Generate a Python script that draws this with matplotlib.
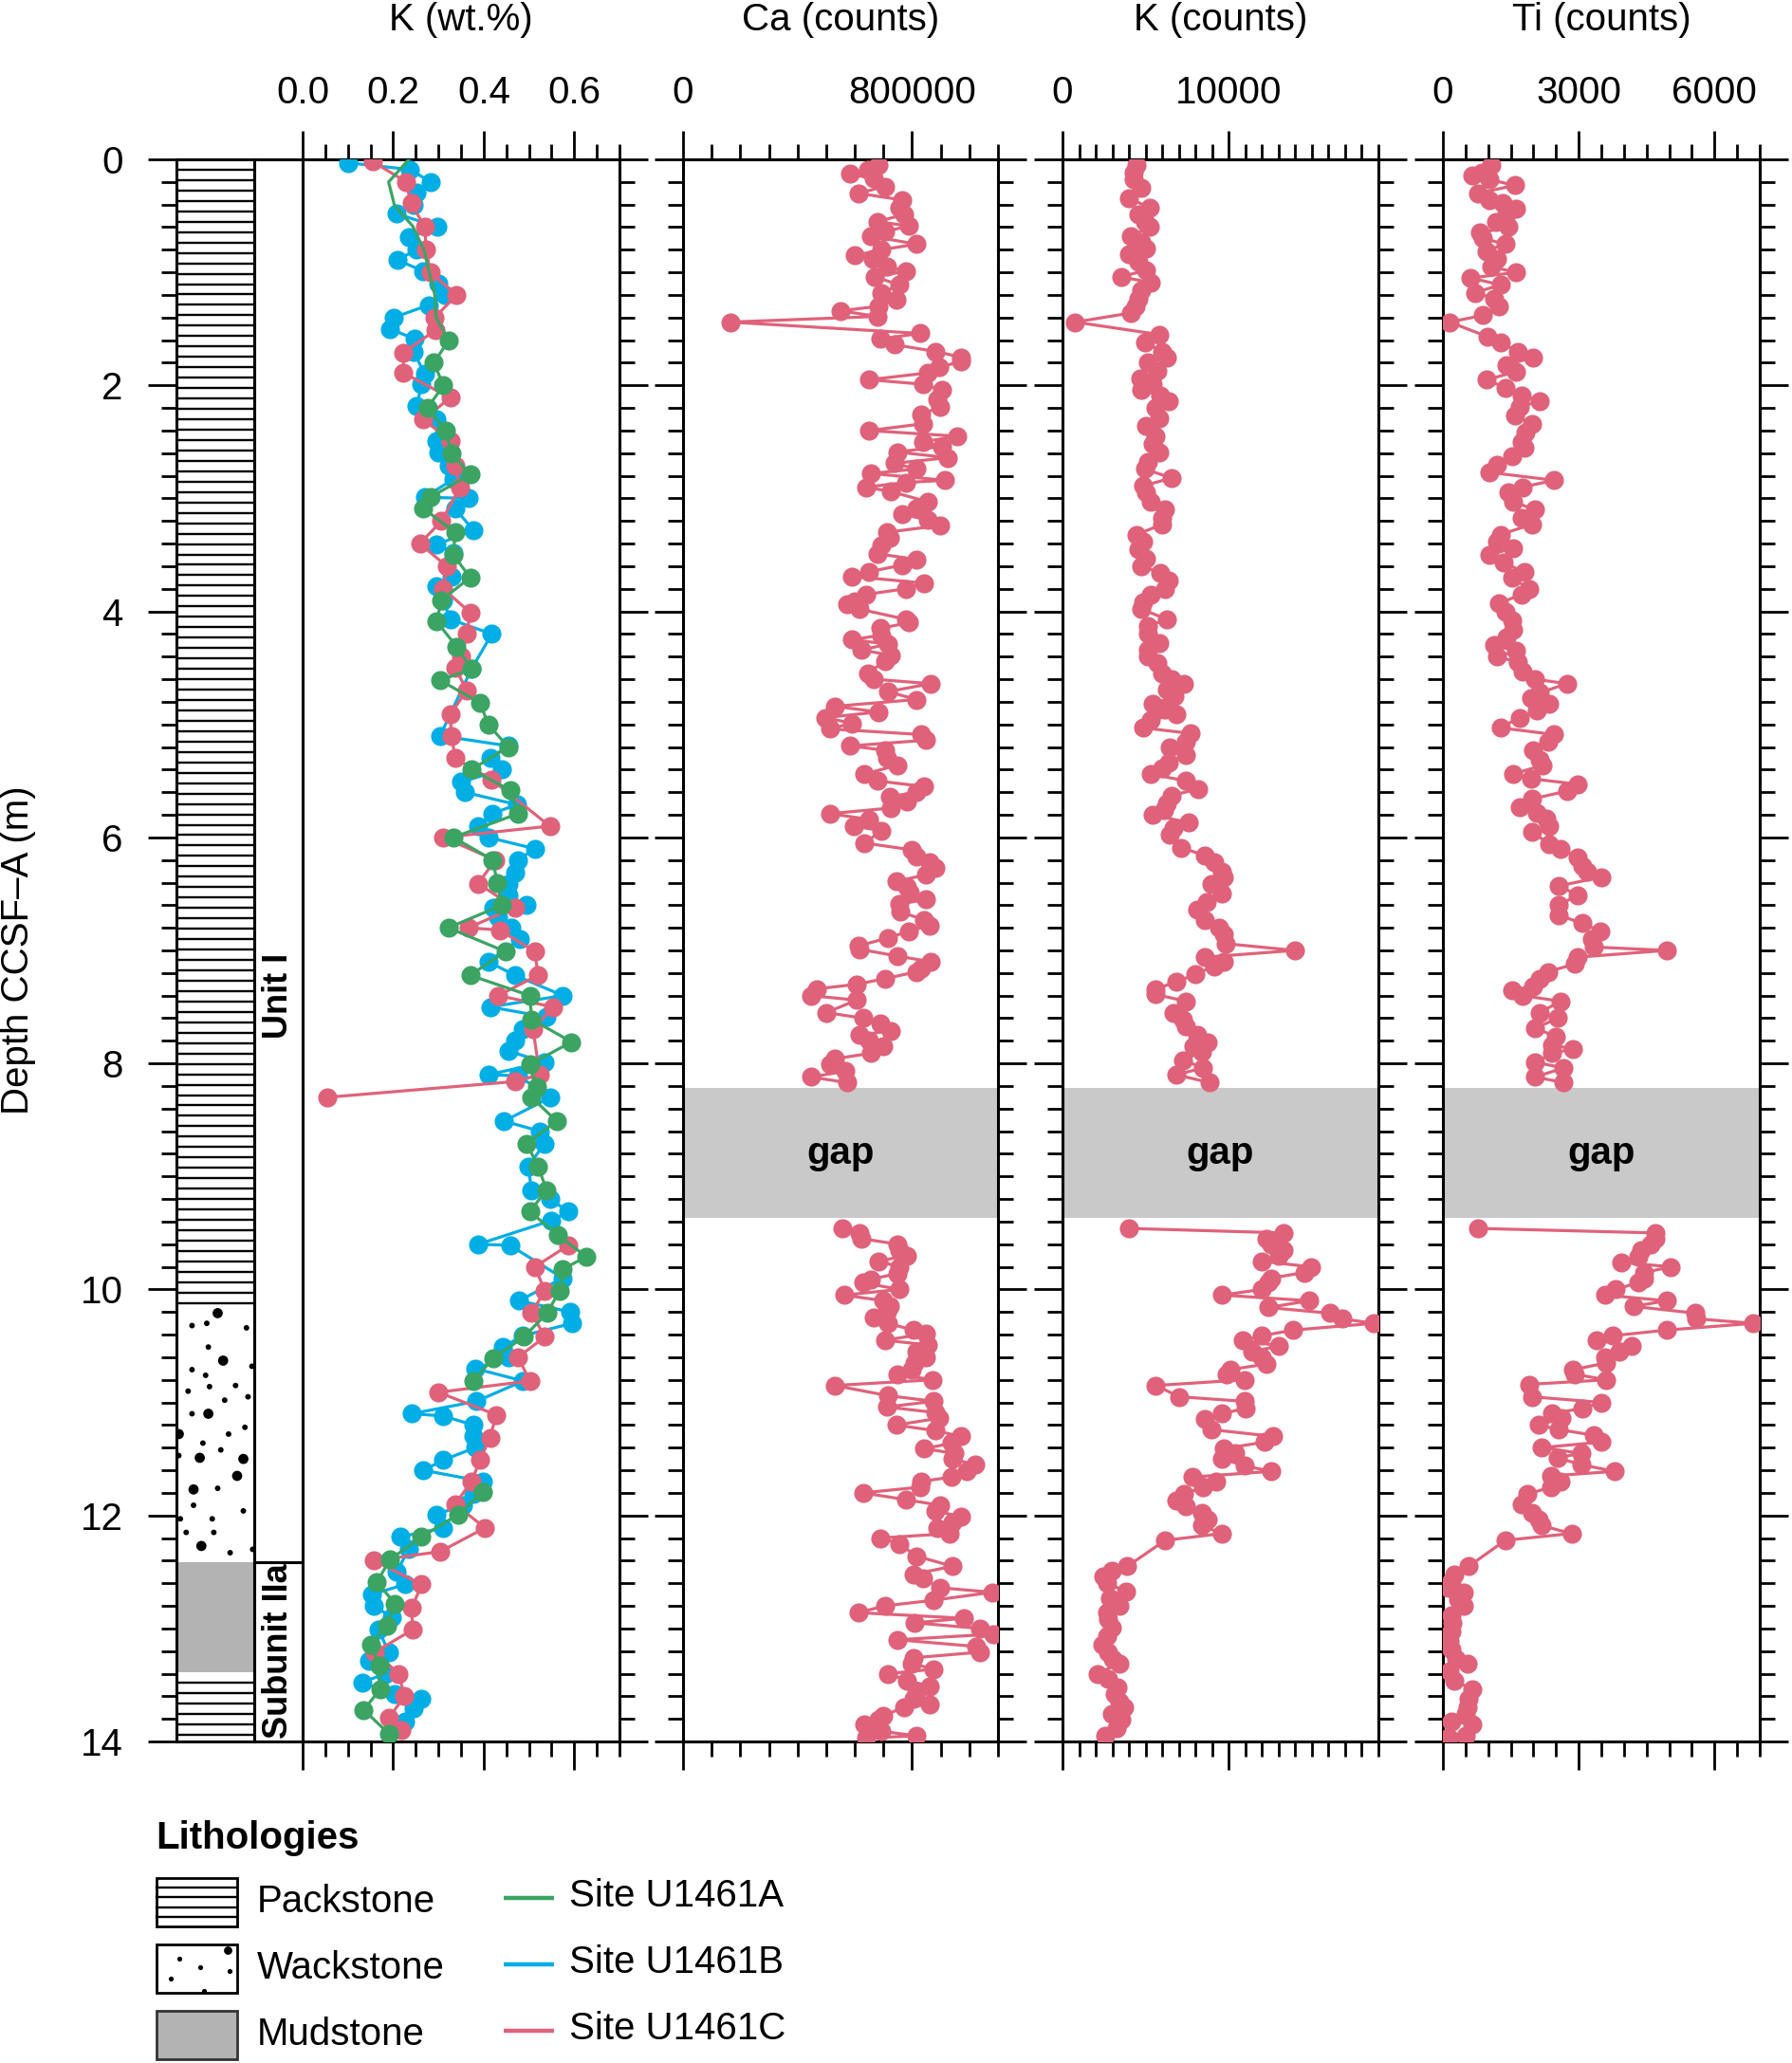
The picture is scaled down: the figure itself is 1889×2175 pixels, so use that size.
import numpy as np
import matplotlib
matplotlib.use("Agg")
import matplotlib.pyplot as plt
from matplotlib.ticker import MultipleLocator, FixedLocator, FixedFormatter
from matplotlib.patches import Rectangle

plt.rcParams['font.family'] = ['Liberation Sans', 'DejaVu Sans']

# ---------------------------------------------------------------- data
# Ca counts (thousands) vs depth, Site U1461C
ca_data = [(0.05,683),(0.09,645),(0.13,582),(0.17,667),(0.24,705),(0.30,612),(0.36,766),(0.43,755),(0.49,771),(0.55,678),
 (0.59,788),(0.64,705),(0.68,656),(0.75,815),(0.80,694),(0.85,601),(0.88,661),(0.95,711),(0.99,777),(1.04,670),
 (1.11,755),(1.18,694),(1.24,744),(1.30,683),(1.34,551),(1.39,678),(1.44,165),(1.54,827),(1.59,689),(1.64,738),
 (1.70,882),(1.75,970),(1.79,970),(1.84,893),(1.89,854),(1.95,650),(1.99,838),(2.04,904),(2.12,887),(2.19,898),
 (2.26,832),(2.34,838),(2.40,650),(2.45,959),(2.50,838),(2.54,904),(2.59,749),(2.64,926),(2.69,738),(2.74,815),
 (2.78,656),(2.84,915),(2.86,777),(2.90,639),(2.94,727),(3.03,854),(3.09,815),(3.14,766),(3.19,854),(3.24,898),
 (3.30,711),(3.35,722),(3.42,694),(3.49,678),(3.54,815),(3.59,766),(3.65,648),(3.69,590),(3.75,843),(3.80,777),
 (3.85,639),(3.91,601),(3.94,573),(3.98,617),(4.07,777),(4.10,788),(4.15,689),(4.21,694),(4.25,590),(4.29,716),
 (4.34,623),(4.39,727),(4.44,705),(4.55,645),(4.60,667),(4.64,865),(4.71,716),(4.78,815),(4.84,529),(4.89,683),
 (4.94,496),(4.99,590),(5.04,512),(5.09,832),(5.14,849),(5.19,584),(5.23,705),(5.30,711),(5.36,749),(5.44,634),
 (5.50,678),(5.55,843),(5.60,815),(5.64,722),(5.68,782),(5.74,727),(5.79,512),(5.84,650),(5.90,595),(5.94,694),
 (6.05,634),(6.11,799),(6.17,815),(6.22,860),(6.27,882),(6.33,849),(6.39,744),(6.44,782),(6.49,793),(6.55,849),
 (6.59,755),(6.66,760),(6.73,843),(6.78,860),(6.83,788),(6.89,716),(6.96,612),(6.99,617),(7.05,749),(7.10,865),
 (7.16,832),(7.19,815),(7.25,705),(7.30,606),(7.34,468),(7.40,446),(7.44,606),(7.55,501),(7.60,628),(7.65,689),
 (7.71,727),(7.75,617),(7.80,650),(7.85,700),(7.91,656),(7.96,529),(8.01,512),(8.07,568),(8.12,446),(8.17,573),
 (9.46,556),(9.50,617),(9.55,623),(9.60,749),(9.65,755),(9.70,782),(9.75,683),(9.80,755),(9.86,749),(9.91,656),
 (9.94,628),(10.00,755),(10.05,562),(10.10,700),(10.15,722),(10.20,711),(10.25,667),(10.30,716),(10.36,804),(10.39,849),
 (10.45,705),(10.49,854),(10.55,815),(10.60,849),(10.65,810),(10.71,799),(10.75,749),(10.80,871),(10.85,529),(10.94,716),
 (10.99,876),(11.04,711),(11.09,882),(11.14,893),(11.20,744),(11.25,882),(11.30,970),(11.36,937),(11.41,843),(11.45,948),
 (11.50,942),(11.55,1019),(11.61,992),(11.66,937),(11.70,832),(11.75,827),(11.80,628),(11.86,777),(11.91,898),(11.96,882),
 (12.01,970),(12.06,942),(12.11,887),(12.16,931),(12.20,689),(12.25,755),(12.36,815),(12.45,942),(12.52,804),(12.56,838),
 (12.64,898),(12.68,1080),(12.75,876),(12.80,705),(12.86,612),(12.91,981),(12.95,810),(13.00,1036),(13.05,1085),(13.10,749),
 (13.16,1025),(13.21,1036),(13.26,804),(13.31,799),(13.36,876),(13.40,716),(13.46,782),(13.51,860),(13.56,815),(13.62,804),
 (13.67,860),(13.70,771),(13.77,700),(13.81,683),(13.85,634),(13.91,694),(13.95,815),(13.97,639)]

# K counts vs depth, Site U1461C
kc_data = [(0.05,4470),(0.12,4280),(0.18,4280),(0.25,4755),(0.34,3990),(0.43,5230),(0.49,4560),(0.55,4945),(0.60,5230),(0.68,4090),
 (0.73,4755),(0.79,5040),(0.84,3990),(0.91,4565),(0.98,5040),(1.04,3520),(1.09,5325),(1.16,4755),(1.23,4565),(1.30,4375),
 (1.36,4090),(1.44,760),(1.55,5800),(1.62,4945),(1.70,5990),(1.75,6280),(1.80,5135),(1.87,5705),(1.94,4660),(1.99,5420),
 (2.04,4755),(2.09,5900),(2.14,6370),(2.20,5610),(2.29,5800),(2.36,5040),(2.45,5610),(2.52,5420),(2.59,5800),(2.68,5135),
 (2.74,4945),(2.82,6560),(2.89,4850),(2.95,5040),(3.03,5325),(3.10,6180),(3.17,5990),(3.23,5990),(3.32,4470),(3.38,4850),
 (3.45,4565),(3.53,5040),(3.60,4755),(3.66,5900),(3.73,6370),(3.80,6180),(3.85,5325),(3.92,4850),(3.98,4755),(4.07,6280),
 (4.13,5135),(4.20,5135),(4.28,5800),(4.34,5135),(4.40,5135),(4.46,5705),(4.55,5990),(4.60,6560),(4.64,7320),(4.69,6280),
 (4.75,6750),(4.82,5420),(4.87,6180),(4.91,6845),(4.96,5325),(5.03,4850),(5.08,7700),(5.15,7420),(5.20,6465),(5.27,7420),
 (5.34,6370),(5.39,5990),(5.44,5325),(5.50,7420),(5.57,8180),(5.63,6560),(5.70,6280),(5.76,6085),(5.80,5420),(5.87,7610),
 (5.92,6655),(5.98,6465),(6.09,7130),(6.16,8560),(6.22,9130),(6.30,9605),(6.35,9700),(6.41,8940),(6.50,9605),(6.57,8655),
 (6.64,8085),(6.73,8560),(6.80,9415),(6.86,9700),(6.94,9795),(7.00,13980),(7.06,8560),(7.10,9700),(7.14,9130),(7.21,7990),
 (7.28,6845),(7.34,5610),(7.39,5610),(7.45,7420),(7.55,6655),(7.61,7230),(7.67,7420),(7.75,8085),(7.81,8750),(7.85,7895),
 (7.90,8370),(7.97,7230),(8.04,8465),(8.10,6845),(8.17,8845),
 (9.46,3990),(9.50,13300),(9.55,12270),(9.60,12550),(9.65,13300),(9.70,13030),(9.75,11980),(9.80,14930),(9.85,14550),(9.90,12550),
 (9.94,12360),(10.00,11980),(10.05,9605),(10.10,14840),(10.16,12360),(10.21,16070),(10.26,16830),(10.30,18730),(10.36,13880),(10.41,11980),
 (10.45,10840),(10.50,13030),(10.55,11410),(10.60,11980),(10.66,12270),(10.71,10080),(10.75,9890),(10.80,10935),(10.85,5610),(10.95,7040),
 (10.99,10935),(11.05,11030),(11.10,9605),(11.15,8560),(11.24,8940),(11.30,12650),(11.35,12170),(11.41,9700),(11.45,10365),(11.50,9605),
 (11.56,10935),(11.61,12550),(11.66,7800),(11.70,9225),(11.75,8465),(11.81,7320),(11.87,6845),(11.92,7420),(11.98,8370),(12.04,8750),
 (12.09,8370),(12.16,9605),(12.22,6180),(12.45,3900),(12.49,2950),(12.54,2470),(12.60,2660),(12.67,3800),(12.73,2850),(12.80,3420),
 (12.86,2660),(12.92,2760),(12.99,2950),(13.07,2660),(13.14,2380),(13.21,2760),(13.27,3040),(13.31,3420),(13.40,2090),(13.45,2760),
 (13.52,3330),(13.58,3140),(13.65,3420),(13.70,3710),(13.76,2950),(13.81,3520),(13.88,3230),(13.95,2570)]

# Ti counts vs depth, Site U1461C
ti_data = [(0.05,1060),(0.12,850),(0.14,640),(0.18,1030),(0.23,1590),(0.30,780),(0.36,1030),(0.39,1310),(0.44,1620),(0.49,1410),
 (0.55,1170),(0.60,1450),(0.65,820),(0.70,890),(0.75,1380),(0.81,960),(0.88,1200),(0.95,1060),(1.00,1620),(1.05,610),
 (1.11,1270),(1.18,710),(1.23,1130),(1.30,1240),(1.38,890),(1.44,150),(1.57,990),(1.62,1270),(1.70,1660),(1.75,2000),
 (1.82,1410),(1.88,1620),(1.95,960),(2.02,1380),(2.09,1730),(2.14,2140),(2.19,1690),(2.27,1590),(2.34,1970),(2.42,1830),
 (2.50,1730),(2.55,1800),(2.63,1520),(2.70,1200),(2.77,1030),(2.84,2460),(2.90,1760),(2.95,1450),(3.03,1550),(3.10,2040),
 (3.17,1730),(3.23,1970),(3.32,1270),(3.38,1200),(3.44,1550),(3.50,1030),(3.57,1340),(3.65,1800),(3.70,1520),(3.80,1900),
 (3.85,1730),(3.93,1240),(4.00,1380),(4.08,1520),(4.16,1550),(4.23,1410),(4.30,1130),(4.35,1620),(4.40,1200),(4.45,1660),
 (4.53,1760),(4.60,2040),(4.64,2740),(4.72,2140),(4.77,1940),(4.82,2350),(4.88,2070),(4.94,1690),(5.03,1270),(5.09,2460),
 (5.15,2320),(5.23,2000),(5.31,2140),(5.36,2210),(5.44,1550),(5.48,1940),(5.53,2980),(5.59,2740),(5.66,1970),(5.73,1690),
 (5.78,2070),(5.83,2280),(5.90,2350),(5.95,1970),(6.06,2350),(6.10,2600),(6.18,2980),(6.25,3090),(6.30,3190),(6.35,3510),
 (6.43,2560),(6.51,2980),(6.60,2560),(6.69,2560),(6.76,3090),(6.83,3470),(6.90,3300),(6.97,3330),(7.00,4940),(7.06,2980),
 (7.12,2910),(7.19,2320),(7.25,2140),(7.32,2000),(7.35,1520),(7.40,1760),(7.45,2600),(7.55,2140),(7.60,2530),(7.69,2040),
 (7.76,2490),(7.84,2420),(7.87,2880),(7.91,2420),(7.99,2040),(8.04,2670),(8.12,2040),(8.17,2670),
 (9.46,780),(9.50,4690),(9.55,4690),(9.60,4590),(9.65,4380),(9.71,4310),(9.76,3930),(9.80,5040),(9.85,4450),(9.90,4450),
 (9.94,4310),(10.00,3820),(10.05,3580),(10.10,4940),(10.15,4210),(10.21,5570),(10.26,5600),(10.30,6860),(10.36,4940),(10.41,3750),
 (10.45,3400),(10.50,4170),(10.55,3890),(10.60,3580),(10.65,3610),(10.71,2880),(10.75,2910),(10.80,3610),(10.84,1900),(10.95,1970),
 (11.00,3510),(11.05,3090),(11.10,2420),(11.14,2630),(11.20,2110),(11.24,2560),(11.29,3330),(11.35,3510),(11.40,2180),(11.45,3050),
 (11.49,2530),(11.55,3050),(11.61,3790),(11.65,2390),(11.70,2600),(11.75,2390),(11.81,1870),(11.90,1730),(11.98,1970),(12.04,2110),
 (12.09,2180),(12.16,2840),(12.22,1380),(12.45,570),(12.52,260),(12.58,190),(12.64,120),(12.68,470),(12.74,330),(12.80,470),
 (12.88,190),(12.95,220),(13.03,190),(13.11,150),(13.19,190),(13.27,290),(13.31,540),(13.38,150),(13.46,260),(13.54,640),
 (13.62,570),(13.70,540),(13.76,500),(13.82,190),(13.85,640),(13.95,500),(13.97,120)]

# K (wt.%) for the three holes
kwt_a = [(0.00,0.235),(0.20,0.190),(0.41,0.203),(0.59,0.243),(0.80,0.268),(1.00,0.280),(1.20,0.292),(1.40,0.295),
 (1.60,0.323),(1.80,0.290),(2.00,0.311),(2.20,0.276),(2.40,0.316),(2.60,0.329),(2.79,0.370),(2.99,0.282),(3.09,0.267),
 (3.30,0.337),(3.50,0.333),(3.70,0.370),(3.90,0.307),(4.09,0.296),(4.31,0.340),(4.51,0.373),(4.61,0.304),(4.81,0.392),
 (5.00,0.410),(5.20,0.454),(5.40,0.373),(5.58,0.458),(5.79,0.476),(6.00,0.333),(6.20,0.420),(6.40,0.430),(6.60,0.440),
 (6.80,0.322),(7.01,0.448),(7.22,0.370),(7.40,0.502),(7.61,0.506),(7.81,0.594),(8.01,0.502),(8.21,0.517),(8.30,0.506),
 (8.51,0.561),(8.71,0.495),(8.91,0.520),(9.12,0.539),(9.31,0.502),(9.52,0.564),(9.71,0.627),(9.82,0.575),(10.01,0.568),
 (10.21,0.540),(10.42,0.489),(10.61,0.421),(10.81,0.377),(11.79,0.399),(11.99,0.344),(12.19,0.263),(12.39,0.193),
 (12.59,0.164),(12.78,0.204),(12.98,0.186),(13.14,0.151),(13.33,0.169),(13.54,0.171),(13.72,0.135),(13.93,0.190)]
kwt_b = [(0.03,0.100),(0.09,0.237),(0.20,0.283),(0.29,0.252),(0.40,0.245),(0.48,0.208),(0.60,0.298),(0.69,0.234),(0.80,0.252),
 (0.89,0.209),(0.99,0.267),(1.10,0.300),(1.20,0.315),(1.29,0.278),(1.40,0.201),(1.50,0.193),(1.59,0.248),(1.70,0.245),
 (1.90,0.270),(1.99,0.263),(2.18,0.252),(2.30,0.296),(2.49,0.296),(2.59,0.300),(2.71,0.322),(2.83,0.333),(2.99,0.270),
 (3.00,0.366),(3.09,0.337),(3.28,0.377),(3.41,0.296),(3.48,0.333),(3.69,0.329),(3.78,0.296),(3.90,0.311),(4.07,0.326),
 (4.20,0.418),(4.51,0.373),(5.10,0.304),(5.19,0.454),(5.30,0.414),(5.40,0.440),(5.51,0.351),(5.60,0.358),(5.71,0.473),
 (5.79,0.419),(5.90,0.388),(6.00,0.410),(6.10,0.513),(6.20,0.476),(6.31,0.469),(6.41,0.454),(6.51,0.454),(6.60,0.495),
 (6.62,0.421),(6.71,0.432),(6.80,0.462),(6.90,0.480),(7.10,0.410),(7.22,0.469),(7.40,0.575),(7.50,0.414),(7.59,0.539),
 (7.70,0.487),(7.80,0.469),(7.89,0.454),(7.99,0.535),(8.10,0.410),(8.11,0.476),(8.30,0.548),(8.51,0.445),(8.60,0.524),
 (8.71,0.535),(8.91,0.498),(9.12,0.506),(9.20,0.546),(9.31,0.587),(9.39,0.550),(9.60,0.388),(9.61,0.458),(9.90,0.575),
 (10.10,0.478),(10.20,0.592),(10.30,0.596),(10.41,0.486),(10.51,0.442),(10.60,0.454),(10.70,0.381),(10.81,0.487),
 (10.99,0.384),(11.10,0.241),(11.12,0.311),(11.20,0.377),(11.30,0.377),(11.40,0.381),(11.51,0.311),(11.60,0.267),
 (11.70,0.399),(11.81,0.377),(11.91,0.355),(11.99,0.296),(12.11,0.311),(12.19,0.215),(12.30,0.234),(12.50,0.208),
 (12.61,0.226),(12.70,0.153),(12.80,0.157),(12.90,0.197),(13.01,0.168),(13.21,0.190),(13.29,0.146),(13.40,0.182),
 (13.48,0.131),(13.58,0.204),(13.62,0.263),(13.71,0.245),(13.82,0.226)]
kwt_c = [(0.02,0.155),(0.20,0.229),(0.39,0.240),(0.60,0.270),(0.80,0.273),(1.00,0.282),(1.20,0.340),(1.40,0.292),(1.51,0.294),
 (1.71,0.223),(1.89,0.223),(2.11,0.326),(2.30,0.267),(2.49,0.326),(2.71,0.337),(2.90,0.348),(3.20,0.307),(3.40,0.259),
 (3.60,0.318),(3.80,0.311),(4.01,0.370),(4.20,0.363),(4.40,0.351),(4.50,0.337),(4.70,0.363),(4.91,0.326),(5.10,0.329),
 (5.30,0.337),(5.49,0.418),(5.90,0.546),(6.00,0.311),(6.20,0.425),(6.41,0.388),(6.62,0.469),(6.80,0.366),(6.82,0.436),
 (7.01,0.513),(7.22,0.520),(7.40,0.432),(7.50,0.553),(7.70,0.509),(8.10,0.524),(8.16,0.470),(8.30,0.054),
 (9.61,0.587),(9.80,0.513),(10.01,0.535),(10.21,0.506),(10.42,0.535),(10.60,0.476),(10.81,0.502),(10.91,0.300),
 (11.11,0.428),(11.31,0.414),(11.51,0.392),(11.70,0.373),(11.90,0.337),(12.11,0.403),(12.32,0.304),(12.40,0.157),
 (12.61,0.263),(12.82,0.241),(13.01,0.243),(13.21,0.160),(13.40,0.212),(13.60,0.225),(13.79,0.191),(13.90,0.218)]

site_labels = ['Site U1461A', 'Site U1461B', 'Site U1461C']
site_colors = ['#3ba463', '#00aee6', '#e0627a']

# lithology column (top, base, type)
lith_units = [(0.0, 10.18, 'Packstone'), (10.18, 12.41, 'Wackstone'),
              (12.41, 13.39, 'Mudstone'), (13.39, 14.0, 'Packstone')]
unit_names = [('Unit I', 0.0, 12.41, 7.4), ('Subunit IIa', 12.41, 14.0, 13.2)]
gap_interval = (8.22, 9.37)
# wackstone grains (fraction across column, depth, large?)
wack_dots = [(0.53,10.21,1),(0.20,10.32,0),(0.39,10.30,0),(0.90,10.34,0),(0.41,10.51,0),(0.60,10.63,1),
             (0.20,10.71,0),(0.375,10.76,0),(0.97,10.68,0),(0.15,10.90,0),(0.425,10.86,0),(0.76,10.85,0),
             (0.62,10.98,0),(0.92,10.95,0),(0.20,11.10,0),(0.41,11.10,1),(0.03,11.28,1),(0.67,11.28,0),
             (0.88,11.22,0),(0.34,11.36,0),(0.57,11.42,0),(0.30,11.49,1),(0.86,11.50,1),(0.03,11.47,0),
             (0.78,11.65,1),(0.22,11.77,1),(0.53,11.76,0),(0.22,11.91,0),(0.86,11.96,0),(0.05,12.03,0),
             (0.46,12.03,0),(0.125,12.15,0),(0.48,12.15,0),(0.32,12.27,1),(0.69,12.33,0),(0.98,12.30,0)]

# ---------------------------------------------------------------- layout
W, H = 1890, 2175
TOP, BOT = 168, 1836
FS = 29
LW_FRAME = 2.2
MAJ_LEN, MIN_LEN = 21.5, 11.5
MUD_COLOR = '#b3b3b3'
GAP_COLOR = '#c9c9c9'
MS, LW = 14.5, 2.3

fig = plt.figure(figsize=(W / 100, H / 100), dpi=100)


def add_ax(x0, x1):
    return fig.add_axes([x0 / W, 1 - BOT / H, (x1 - x0) / W, (BOT - TOP) / H])


def breaks(data, max_step):
    d, v = np.array(data, float).T
    o = np.argsort(d, kind='stable')
    d, v = d[o], v[o]
    b = np.where(np.diff(d) > max_step)[0] + 1
    return np.insert(d, b, np.nan), np.insert(v, b, np.nan)


def style_depth(ax, left=True, right=True):
    ax.set_ylim(14, 0)
    ax.yaxis.set_major_locator(MultipleLocator(2))
    ax.yaxis.set_minor_locator(MultipleLocator(0.2))
    for s in ax.spines.values():
        s.set_linewidth(LW_FRAME)
    ax.tick_params(axis='y', which='both', direction='out', left=left, right=right,
                   labelleft=False, labelright=False, width=2.0)
    ax.tick_params(axis='both', which='major', length=MAJ_LEN)
    ax.tick_params(axis='both', which='minor', length=MIN_LEN)


def style_x(ax, xmax, majors, labels, minor_step):
    ax.set_xlim(0, xmax)
    ax.xaxis.set_major_locator(FixedLocator(majors))
    ax.xaxis.set_major_formatter(FixedFormatter(labels))
    ax.xaxis.set_minor_locator(MultipleLocator(minor_step))
    ax.tick_params(axis='x', which='both', direction='out', top=True, bottom=True,
                   labeltop=True, labelbottom=False, width=2.0, labelsize=FS, pad=15)


# lithology column
ax_lith = add_ax(186, 268)
ax_lith.set_xlim(0, 1)
style_depth(ax_lith, left=True, right=False)
ax_lith.tick_params(axis='y', labelleft=True, labelsize=FS, pad=19)
ax_lith.yaxis.set_major_formatter(FixedFormatter([str(v) for v in range(0, 16, 2)]))
ax_lith.yaxis.set_major_locator(FixedLocator(list(range(0, 16, 2))))
ax_lith.set_xticks([])
for top, base, kind in lith_units:
    if kind == 'Packstone':
        ys = np.arange(top + 0.092, base - 0.02, 0.092)
        ax_lith.hlines(ys, 0, 1, color='black', lw=1.7)
    elif kind == 'Mudstone':
        ax_lith.axhspan(top, base, color=MUD_COLOR, lw=0)
dx, dd, dl = np.array(wack_dots).T
ax_lith.scatter(dx, dd, s=np.where(dl > 0, 60, 18), color='black', lw=0, clip_on=True)

# unit column
ax_unit = add_ax(268, 319)
ax_unit.set_xlim(0, 1)
style_depth(ax_unit, left=False, right=False)
ax_unit.set_xticks([])
for name, top, base, yc in unit_names:
    if top > 0:
        ax_unit.axhline(top, color='black', lw=LW_FRAME)
    ax_unit.text(0.5, yc, name, rotation=90, ha='center', va='center',
                 fontsize=26, fontweight='bold')

# K wt%
ax_kwt = add_ax(319, 653)
style_depth(ax_kwt, left=False, right=True)
style_x(ax_kwt, 0.7, [0, 0.2, 0.4, 0.6], ['0.0', '0.2', '0.4', '0.6'], 0.05)
order = [1, 2, 0]
series = [kwt_a, kwt_b, kwt_c]
for i in order:
    d, v = breaks(series[i], 0.9)
    if i == 0:
        mk = [k for k in range(len(d)) if np.isfinite(d[k]) and d[k] >= 1.55]
    else:
        mk = None
    ax_kwt.plot(v, d, '-o', color=site_colors[i], lw=LW, ms=MS, mew=0,
                markevery=mk, zorder=3 + order.index(i))

# counts panels
panels = [
    (720, 1052, ca_data, 1000.0, 1.1e6, [0, 800000], ['0', '800000'], 100000),
    (1120, 1453, kc_data, 1.0, 19000, [0, 10000], ['0', '10000'], 1000),
    (1521, 1855, ti_data, 1.0, 7000, [0, 3000, 6000], ['0', '3000', '6000'], 500),
]
for x0, x1, data, scale, xmax, majors, labels, mstep in panels:
    ax = add_ax(x0, x1)
    style_depth(ax, left=True, right=True)
    style_x(ax, xmax, majors, labels, mstep)
    ax.axhspan(*gap_interval, color=GAP_COLOR, lw=0, zorder=1)
    ax.text(xmax / 2, np.mean(gap_interval), 'gap', ha='center', va='center',
            fontsize=FS, fontweight='bold', zorder=2)
    d, v = breaks(data, 0.9)
    ax.plot(v * scale, d, '-o', color=site_colors[2], lw=LW, ms=MS, mew=0, zorder=3)

# titles
titles = ['K (wt.%)', 'Ca (counts)', 'K (counts)', 'Ti (counts)']
centers = [486, 886, 1287, 1688]
for t, c in zip(titles, centers):
    fig.text(c / W, 1 - 21 / H, t, ha='center', va='center', fontsize=FS)
fig.text(19 / W, 1 - 1002 / H, 'Depth CCSF\u2013A (m)', rotation=90,
         ha='center', va='center', fontsize=FS)

# legend (figure pixel space)
lg = fig.add_axes([0, 0, 1, 1], zorder=-1)
lg.set_xlim(0, W)
lg.set_ylim(H, 0)
lg.axis('off')
lg.text(164, 1938, 'Lithologies', fontsize=FS, fontweight='bold', va='center', ha='left')
bx, bw, bh = 165, 85, 51
box_tops = [1980, 2050, 2120]
lith_names = ['Packstone', 'Wackstone', 'Mudstone']
for name, y0 in zip(lith_names, box_tops):
    fc = MUD_COLOR if name == 'Mudstone' else 'white'
    ec = '#333333' if name == 'Mudstone' else 'black'
    lg.add_patch(Rectangle((bx, y0), bw, bh, facecolor=fc, edgecolor=ec, lw=2.0))
    if name == 'Packstone':
        for k in range(1, 5):
            lg.plot([bx, bx + bw], [y0 + k * bh / 5] * 2, color='black', lw=1.7)
    if name == 'Wackstone':
        for fx, fy, big in [(0.88, 0.12, 1), (0.28, 0.29, 0), (0.54, 0.47, 0),
                            (0.90, 0.55, 0), (0.18, 0.70, 0), (0.59, 0.97, 0)]:
            lg.scatter(bx + fx * bw, y0 + fy * bh, s=40 if big else 14, color='black', lw=0)
    lg.text(271, y0 + bh / 2, name, fontsize=FS, va='center', ha='left')
line_ys = [2001, 2071, 2141]
for lab, col, y in zip(site_labels, site_colors, line_ys):
    lg.plot([531, 584], [y, y], color=col, lw=3.2, solid_capstyle='butt')
    lg.text(600, y - 2, lab, fontsize=FS, va='center', ha='left')

fig.savefig('out.png', dpi=100)
